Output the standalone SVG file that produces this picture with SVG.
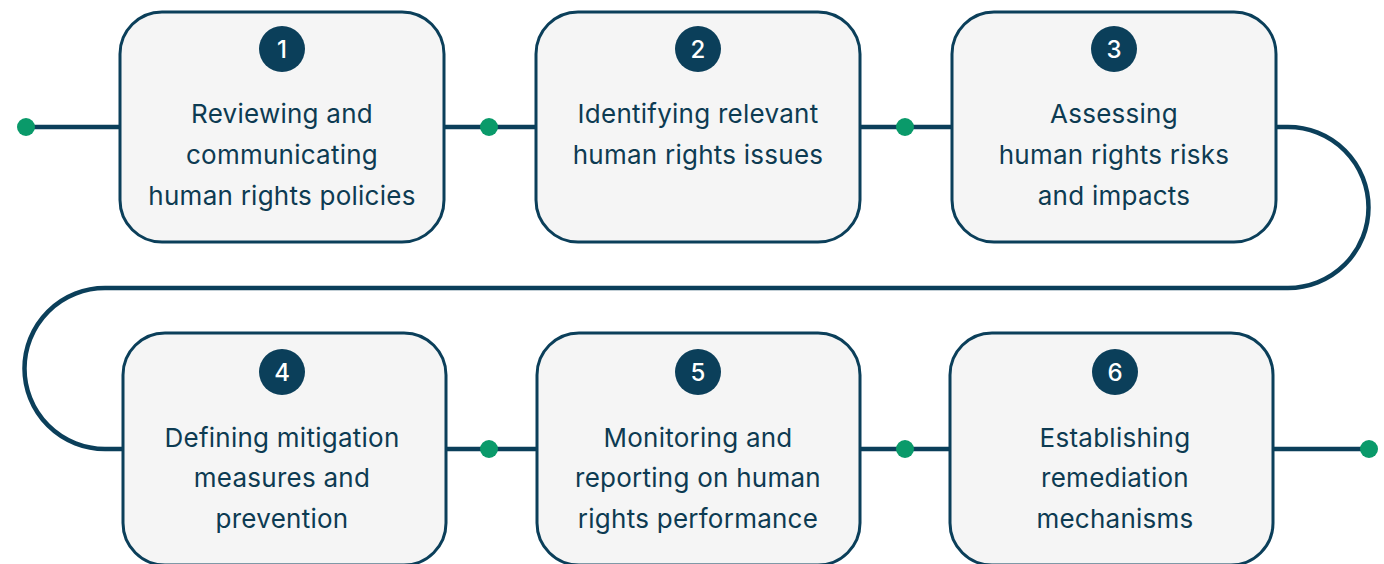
<svg xmlns="http://www.w3.org/2000/svg" width="1384" height="564" viewBox="0 0 1384 564">
  <style>
    .box { fill: #f5f5f5; stroke: #0b3f5a; stroke-width: 3; }
    .badge { fill: #0b3f5a; }
    .num { fill: #ffffff; font-family: Inter, "Liberation Sans", sans-serif; font-size: 24px; font-weight: 500; text-anchor: middle; }
    .lbl { fill: #0d3b52; font-family: Inter, "Liberation Sans", sans-serif; font-size: 26px; letter-spacing: 0.25px; text-anchor: middle; }
    .wire { fill: none; stroke: #0b3f5a; stroke-width: 4.5; }
    .dot { fill: #0a9a6a; }
  </style>

  <g id="connectors">
    <path class="wire" d="M26 127 H1288 A80.5 80.5 0 0 1 1288 288 H105 A80.5 80.5 0 0 0 105 449 H1369"/>
    <circle class="dot" cx="26" cy="127" r="9"/>
    <circle class="dot" cx="489" cy="127" r="9"/>
    <circle class="dot" cx="905" cy="127" r="9"/>
    <circle class="dot" cx="489" cy="449" r="9"/>
    <circle class="dot" cx="905" cy="449" r="9"/>
    <circle class="dot" cx="1369" cy="449" r="9"/>
  </g>

  <g id="step1">
    <rect class="box" x="120" y="12" width="324" height="230" rx="42"/>
    <circle class="badge" cx="282" cy="49" r="23"/>
    <text class="num" x="282" y="58">1</text>
    <text class="lbl" x="282" y="123">Reviewing and</text>
    <text class="lbl" x="282" y="164">communicating</text>
    <text class="lbl" x="282" y="205">human rights policies</text>
  </g>

  <g id="step2">
    <rect class="box" x="536" y="12" width="324" height="230" rx="42"/>
    <circle class="badge" cx="698" cy="49" r="23"/>
    <text class="num" x="698" y="58">2</text>
    <text class="lbl" x="698" y="123">Identifying relevant</text>
    <text class="lbl" x="698" y="164">human rights issues</text>
  </g>

  <g id="step3">
    <rect class="box" x="952" y="12" width="324" height="230" rx="42"/>
    <circle class="badge" cx="1114" cy="49" r="23"/>
    <text class="num" x="1114" y="58">3</text>
    <text class="lbl" x="1114" y="123">Assessing</text>
    <text class="lbl" x="1114" y="164">human rights risks</text>
    <text class="lbl" x="1114" y="205">and impacts</text>
  </g>

  <g id="step4">
    <rect class="box" x="123" y="333" width="323" height="232" rx="42"/>
    <circle class="badge" cx="282" cy="372" r="23"/>
    <text class="num" x="282" y="381">4</text>
    <text class="lbl" x="282" y="447">Defining mitigation</text>
    <text class="lbl" x="282" y="487">measures and</text>
    <text class="lbl" x="282" y="528">prevention</text>
  </g>

  <g id="step5">
    <rect class="box" x="537" y="333" width="323" height="232" rx="42"/>
    <circle class="badge" cx="698" cy="372" r="23"/>
    <text class="num" x="698" y="381">5</text>
    <text class="lbl" x="698" y="447">Monitoring and</text>
    <text class="lbl" x="698" y="487">reporting on human</text>
    <text class="lbl" x="698" y="528">rights performance</text>
  </g>

  <g id="step6">
    <rect class="box" x="950" y="333" width="323" height="232" rx="42"/>
    <circle class="badge" cx="1115" cy="372" r="23"/>
    <text class="num" x="1115" y="381">6</text>
    <text class="lbl" x="1115" y="447">Establishing</text>
    <text class="lbl" x="1115" y="487">remediation</text>
    <text class="lbl" x="1115" y="528">mechanisms</text>
  </g>
</svg>
